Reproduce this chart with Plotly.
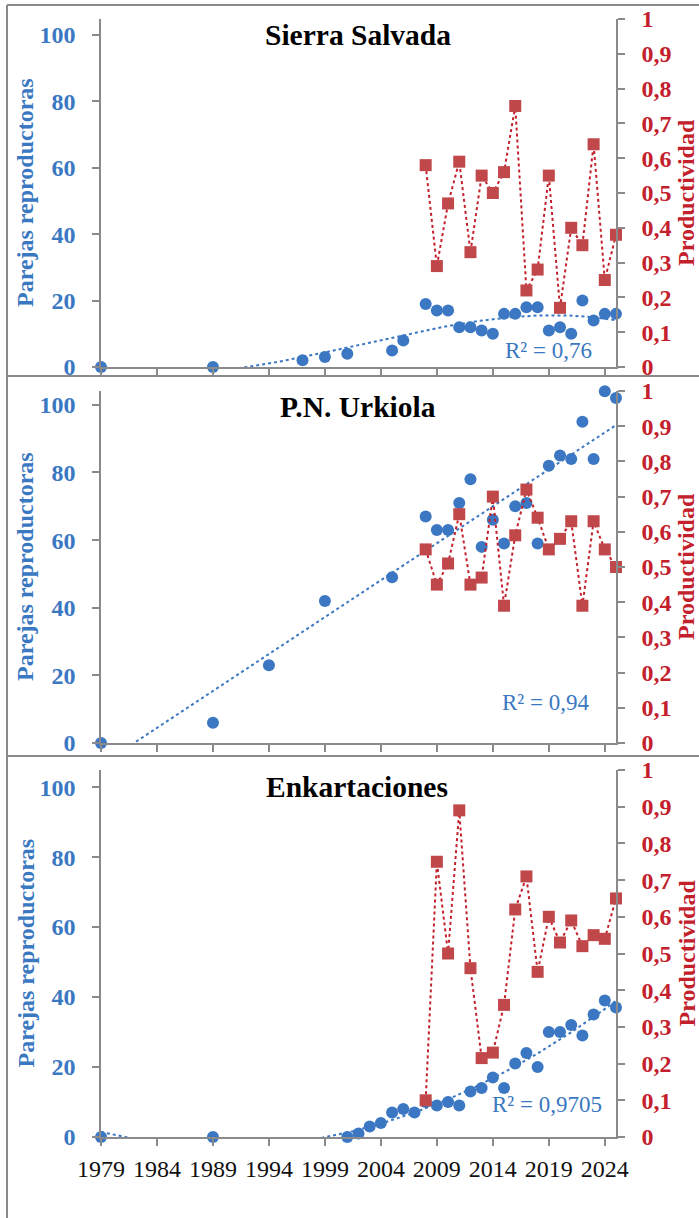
import numpy as np
import plotly.graph_objects as go

# ---------------- data ----------------
panel_titles = ["Sierra Salvada", "P.N. Urkiola", "Enkartaciones"]
r2_labels = ["R² = 0,76", "R² = 0,94", "R² = 0,9705"]

years_ss = [1979, 1989, 1997, 1999, 2001, 2005, 2006, 2008, 2009, 2010, 2011, 2012,
            2013, 2014, 2015, 2016, 2017, 2018, 2019, 2020, 2021, 2022, 2023, 2024, 2025]
pairs_ss = [0, 0, 2, 3, 4, 5, 8, 19, 17, 17, 12, 12, 11, 10, 16, 16, 18, 18,
            11, 12, 10, 20, 14, 16, 16]

years_urk = [1979, 1989, 1994, 1999, 2005, 2008, 2009, 2010, 2011, 2012, 2013, 2014,
             2015, 2016, 2017, 2018, 2019, 2020, 2021, 2022, 2023, 2024, 2025]
pairs_urk = [0, 6, 23, 42, 49, 67, 63, 63, 71, 78, 58, 66, 59, 70, 71, 59,
             82, 85, 84, 95, 84, 104, 102]

years_enk = [1979, 1989, 2001, 2002, 2003, 2004, 2005, 2006, 2007, 2008, 2009, 2010,
             2011, 2012, 2013, 2014, 2015, 2016, 2017, 2018, 2019, 2020, 2021, 2022,
             2023, 2024, 2025]
pairs_enk = [0, 0, 0, 1, 3, 4, 7, 8, 7, 10, 9, 10, 9, 13, 14, 17, 14, 21, 24, 20,
             30, 30, 32, 29, 35, 39, 37]

prod_years = list(range(2008, 2026))
prod_ss = [0.58, 0.29, 0.47, 0.59, 0.33, 0.55, 0.50, 0.56, 0.75, 0.22, 0.28, 0.55,
           0.17, 0.40, 0.35, 0.64, 0.25, 0.38]
prod_urk = [0.55, 0.45, 0.51, 0.65, 0.45, 0.47, 0.70, 0.39, 0.59, 0.72, 0.64, 0.55,
            0.58, 0.63, 0.39, 0.63, 0.55, 0.50]
prod_enk = [0.10, 0.75, 0.50, 0.89, 0.46, 0.215, 0.23, 0.36, 0.62, 0.71, 0.45, 0.60,
            0.53, 0.59, 0.52, 0.55, 0.54, 0.65]

trend_degree = [3, 1, 2]

left_ticks = [0, 20, 40, 60, 80, 100]
right_ticks = [0, 0.1, 0.2, 0.3, 0.4, 0.5, 0.6, 0.7, 0.8, 0.9, 1]
right_ticktext = ["0", "0,1", "0,2", "0,3", "0,4", "0,5", "0,6", "0,7", "0,8", "0,9", "1"]
x_ticks = [1979, 1984, 1989, 1994, 1999, 2004, 2009, 2014, 2019, 2024]

# ---------------- styling ----------------
W, H = 699, 1218
BLUE = "#3b77c2"
BLUE_TXT = "#3a78c2"
RED = "#c0474a"
RED_TXT = "#c3202c"
AXIS = "#8a8a8a"
SERIF = "Liberation Serif, Times New Roman, serif"

panels_px = [(19, 367), (391, 743), (770, 1137)]
left_max = [104.8, 104.1, 104.9]
x_px = (101, 616)
title_px = [(358, 35), (358, 407), (357, 787)]
r2_px = [(548, 351), (545, 702), (547, 1104)]

def px_x(p):
    return p / W

def px_y(p):
    return 1 - p / H

fig = go.Figure()

datasets = [(years_ss, pairs_ss, prod_ss), (years_urk, pairs_urk, prod_urk),
            (years_enk, pairs_enk, prod_enk)]

layout = {}
annotations = []
for i, ((yrs, pairs, prod), (top, bot)) in enumerate(zip(datasets, panels_px)):
    xa = "x" if i == 0 else f"x{i+1}"
    yl_n = 2 * i + 1
    yr_n = 2 * i + 2
    yl = "y" if yl_n == 1 else f"y{yl_n}"
    yr = f"y{yr_n}"

    # blue scatter
    fig.add_trace(go.Scatter(x=yrs, y=pairs, mode="markers", xaxis=xa, yaxis=yl,
                             marker=dict(color=BLUE, size=12, symbol="circle"),
                             cliponaxis=False, showlegend=False))
    # red productivity
    fig.add_trace(go.Scatter(x=prod_years, y=prod, mode="lines+markers", xaxis=xa, yaxis=yr,
                             line=dict(color=RED_TXT, width=2, dash="dot"),
                             marker=dict(color=RED, size=12, symbol="square"),
                             cliponaxis=False, showlegend=False))
    # trend line (least-squares fit of the blue series)
    coef = np.polyfit(yrs, pairs, trend_degree[i])
    xt = np.linspace(min(yrs), 2025, 300)
    yt = np.polyval(coef, xt)
    fig.add_trace(go.Scatter(x=xt, y=yt, mode="lines", xaxis=xa, yaxis=yl,
                             line=dict(color=BLUE, width=2, dash="dot"),
                             showlegend=False, hoverinfo="skip"))

    dom_y = [px_y(bot), px_y(top)]
    xkey = "xaxis" if i == 0 else f"xaxis{i+1}"
    ylkey = "yaxis" if yl_n == 1 else f"yaxis{yl_n}"
    yrkey = f"yaxis{yr_n}"
    layout[xkey] = dict(domain=[px_x(x_px[0]), px_x(x_px[1])], anchor=yl,
                        range=[1979, 2025], showgrid=False, zeroline=False,
                        showline=True, linecolor=AXIS, linewidth=1.5,
                        ticks="outside", ticklen=7, tickcolor=AXIS, tickwidth=1.5,
                        tickvals=x_ticks, showticklabels=(i == 2),
                        ticklabelstandoff=2, automargin=False,
                        tickfont=dict(family=SERIF, size=24, color="#111111"))
    layout[ylkey] = dict(domain=dom_y, anchor=xa, range=[0, left_max[i]],
                         showgrid=False, zeroline=False, showline=True,
                         linecolor=AXIS, linewidth=1.5, ticks="outside", ticklen=7,
                         tickcolor=AXIS, tickwidth=1.5, tickvals=left_ticks,
                         ticklabelstandoff=12, automargin=False,
                         tickfont=dict(family=SERIF, size=24, color=BLUE_TXT, weight="bold"))
    layout[yrkey] = dict(domain=dom_y, anchor=xa, overlaying=yl, side="right",
                         range=[0, 1], showgrid=False, zeroline=False, showline=True,
                         linecolor=AXIS, linewidth=1.5, ticks="outside", ticklen=7,
                         tickcolor=AXIS, tickwidth=1.5, tickvals=right_ticks,
                         ticktext=right_ticktext, ticklabelstandoff=12, automargin=False,
                         tickfont=dict(family=SERIF, size=24, color=RED_TXT, weight="bold"))

    mid = (top + bot) / 2
    annotations.append(dict(text="Parejas reproductoras", x=px_x(25), y=px_y(mid),
                            xref="paper", yref="paper", textangle=-90, showarrow=False,
                            font=dict(family=SERIF, size=24, color=BLUE_TXT, weight="bold"),
                            xanchor="center", yanchor="middle"))
    annotations.append(dict(text="Productividad", x=px_x(686), y=px_y(mid),
                            xref="paper", yref="paper", textangle=-90, showarrow=False,
                            font=dict(family=SERIF, size=24, color=RED_TXT, weight="bold"),
                            xanchor="center", yanchor="middle"))
    annotations.append(dict(text=panel_titles[i], x=px_x(title_px[i][0]), y=px_y(title_px[i][1]),
                            xref="paper", yref="paper", showarrow=False,
                            font=dict(family=SERIF, size=29.5, color="#000000", weight="bold"),
                            xanchor="center", yanchor="middle"))
    annotations.append(dict(text=r2_labels[i], x=px_x(r2_px[i][0]), y=px_y(r2_px[i][1]),
                            xref="paper", yref="paper", showarrow=False,
                            font=dict(family=SERIF, size=23, color=BLUE_TXT),
                            xanchor="center", yanchor="middle"))

# frame lines
shapes = []
frame_lines = [((7, 5), (699, 5)), ((7, 5), (7, 1218)), ((7, 376), (699, 376)),
               ((7, 756), (699, 756))]
for (x0, y0), (x1, y1) in frame_lines:
    shapes.append(dict(type="line", xref="paper", yref="paper",
                       x0=px_x(x0), y0=px_y(y0), x1=px_x(x1), y1=px_y(y1),
                       line=dict(color=AXIS, width=2)))

fig.update_layout(width=W, height=H, margin=dict(l=0, r=0, t=0, b=0, autoexpand=False),
                  plot_bgcolor="white", paper_bgcolor="white",
                  annotations=annotations, shapes=shapes, showlegend=False,
                  **layout)

fig.write_html("out.html", config={"displayModeBar": False},
               post_script="document.body.style.margin='0';document.body.style.overflow='hidden';")
